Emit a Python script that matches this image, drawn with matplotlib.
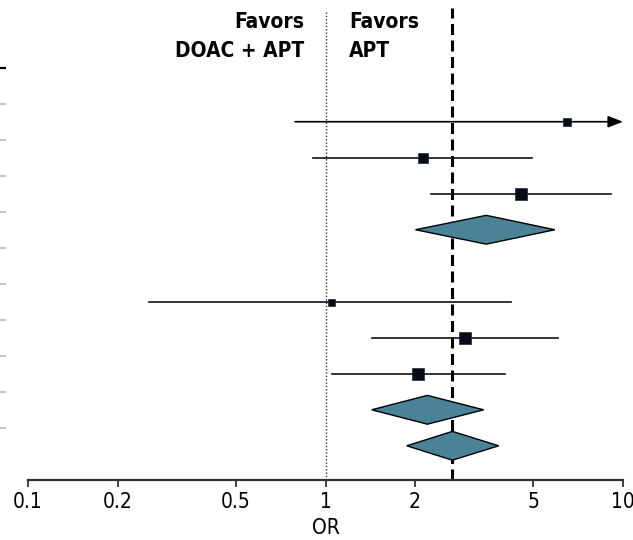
import matplotlib
matplotlib.use("Agg")
import matplotlib.pyplot as plt
import matplotlib.ticker as mticker
from matplotlib import markers as mmarkers
from matplotlib.patches import Polygon
from matplotlib.font_manager import fontManager, FontProperties

# ---------------- data ----------------
study_rows = [0, 1, 2, 5, 6, 7]
study_or = [6.47, 2.12, 4.55, 1.04, 2.95, 2.05]
study_lo = [0.79, 0.906, 2.27, 0.256, 1.435, 1.053]
study_hi = [12.0, 4.94, 9.08, 4.21, 6.06, 4.00]
study_size = [7.5, 10, 12, 7, 12, 12.5]  # marker size (px)

pooled_rows = [3, 8, 9]
pooled_or = [3.47, 2.20, 2.67]
pooled_lo = [2.007, 1.43, 1.876]
pooled_hi = [5.90, 3.40, 3.82]

overall_or = 2.67
x_ticks = [0.1, 0.2, 0.5, 1, 2, 5, 10]
x_ticklabels = ["0.1", "0.2", "0.5", "1", "2", "5", "10"]
row_boundaries = [-1.5, -0.5, 0.5, 1.5, 2.5, 3.5, 4.5, 5.5, 6.5, 7.5, 8.5]
header_left = ["Favors", "DOAC + APT"]
header_right = ["Favors", "APT"]

# ---------------- fonts: look for a narrow / condensed sans ----------------
def pick_fonts():
    entries = fontManager.ttflist
    def find(pred):
        reg = bold = None
        for f in entries:
            if pred(f):
                w = f.weight if isinstance(f.weight, int) else (700 if "bold" in str(f.weight) else 400)
                if f.style != "normal":
                    continue
                if 600 <= w <= 750 and bold is None:
                    bold = f.fname
                if 350 <= w <= 450 and reg is None:
                    reg = f.fname
        return reg, bold
    preds = [
        lambda f: "narrow" in f.fname.lower() and "liberation" in f.fname.lower(),
        lambda f: "condensed" in f.name.lower() or "condensed" in f.fname.lower().replace("semicondensed", ""),
        lambda f: f.name == "Roboto",
    ]
    for p in preds:
        r, b = find(p)
        if r and b:
            return FontProperties(fname=r), FontProperties(fname=b)
    return FontProperties(family="DejaVu Sans"), FontProperties(family="DejaVu Sans", weight="bold")

fp_reg, fp_bold = pick_fonts()

W, H, DPI = 633, 540, 100
fig = plt.figure(figsize=(W / DPI, H / DPI), dpi=DPI)
left_px, right_px = 28, 623
axis_px = 480
row_sp = 36.0
ax = fig.add_axes([left_px / W, (H - axis_px) / H, (right_px - left_px) / W, axis_px / H])
ax.set_xscale("log")
ax.set_xlim(0.1, 10)
ybot, ytop = 9.95, -121.7 / row_sp
ax.set_ylim(ybot, ytop)

# reference lines
ax.plot([1, 1], [ybot, -3.1], color="#333333", lw=1.0, ls=(0, (1, 1.4)), zorder=1)
ax.plot([overall_or, overall_or], [ybot, -3.15], color="black", lw=2.2,
        ls=(0, (3.6, 1.8)), zorder=1)

# studies
for r, o, lo, hi, s in zip(study_rows, study_or, study_lo, study_hi, study_size):
    if hi > 10:
        ax.annotate("", xy=(10, r), xytext=(lo, r),
                    arrowprops=dict(arrowstyle="-|>,head_length=0.9,head_width=0.35",
                                    color="black", lw=1.2, shrinkA=0, shrinkB=0),
                    zorder=3, annotation_clip=False)
    else:
        ax.plot([lo, hi], [r, r], color="#111111", lw=1.2, zorder=2)
    ax.plot([o], [r], marker="s", ms=s * 72 / DPI, color="#070b16",
            mec="#1a2a40", mew=0.5, zorder=4)

# pooled diamonds
for r, o, lo, hi in zip(pooled_rows, pooled_or, pooled_lo, pooled_hi):
    d = 0.40
    poly = Polygon([[lo, r], [o, r - d], [hi, r], [o, r + d]], closed=True,
                   facecolor="#4a8298", edgecolor="black", lw=1.0, zorder=3)
    ax.add_patch(poly)

# headers
for i, (tl, tr) in enumerate(zip(header_left, header_right)):
    yb = -2.6 + 0.8 * i
    ax.text(1 / 1.176, yb, tl, ha="right", va="baseline", fontproperties=fp_bold,
            fontsize=15)
    ax.text(1.20, yb, tr, ha="left", va="baseline", fontproperties=fp_bold,
            fontsize=15)

# axes styling
for sp in ["top", "right"]:
    ax.spines[sp].set_visible(False)
ax.spines["bottom"].set_color("#333333")
ax.spines["bottom"].set_linewidth(1.6)
ax.set_xticks(x_ticks)
ax.set_xticklabels(x_ticklabels, fontproperties=fp_reg, fontsize=15)
ax.xaxis.set_minor_locator(mticker.NullLocator())
ax.tick_params(axis="x", direction="out", length=5, width=1.3, color="#333333",
               pad=4)
ax.set_xlabel("OR", fontproperties=fp_reg, fontsize=15, labelpad=4)

# row-boundary ticks at the far left edge of the figure
ax.spines["left"].set_position(("outward", left_px * 72 / DPI))
ax.spines["left"].set_color("none")
ax.set_yticks(row_boundaries)
ax.set_yticklabels([])
ax.tick_params(axis="y", direction="in", length=4.5, width=1.4, color="#c8c4bc")
# top boundary tick drawn darker
ax.plot([0], [row_boundaries[0]], marker=mmarkers.TICKRIGHT, ms=4.5, mew=1.6,
        color="black", transform=ax.get_yaxis_transform(which="tick1"),
        clip_on=False, zorder=5)

fig.savefig("out.png", dpi=DPI)
